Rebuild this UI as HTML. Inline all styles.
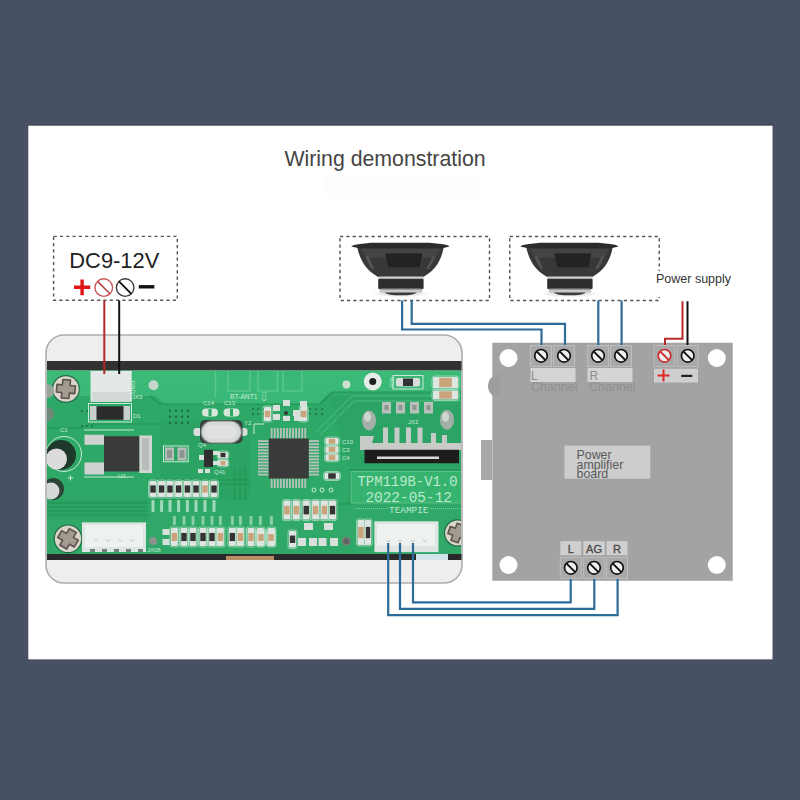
<!DOCTYPE html>
<html><head><meta charset="utf-8">
<style>
html,body{margin:0;padding:0;width:800px;height:800px;overflow:hidden;background:#485064;}
svg{display:block;}
text{font-family:"Liberation Sans",sans-serif;}
</style></head>
<body>
<svg width="800" height="800" viewBox="0 0 800 800">
<defs>
  <radialGradient id="shadow" cx="0.5" cy="0.5" r="0.5">
    <stop offset="0" stop-color="#000" stop-opacity="0.35"/>
    <stop offset="1" stop-color="#000" stop-opacity="0"/>
  </radialGradient>
  <linearGradient id="magnet" x1="0" y1="0" x2="0" y2="1">
    <stop offset="0" stop-color="#8a8a8a"/>
    <stop offset="0.5" stop-color="#dcdcdc"/>
    <stop offset="1" stop-color="#f2f2f2"/>
  </linearGradient>
  <g id="screw">
    <circle r="6.3" fill="#efefef" stroke="#111" stroke-width="1.7"/>
    <line x1="-4.4" y1="-4.4" x2="4.4" y2="4.4" stroke="#111" stroke-width="1.9"/>
  </g>
  <g id="speaker">
    <ellipse cx="49.5" cy="51" rx="30" ry="3.5" fill="url(#shadow)" opacity="0.6"/>
    <path d="M6 4.5 H92.5 C 90 18, 84 27, 74 33 Q 72.6 34.5 70 34.5 H29 Q 26.6 34.5 25 33 C 15 27, 9 18, 6 4.5 Z" fill="#383838"/>
    <path d="M10 6 H 89 C 87 10, 85 13, 83 15 H 16 C 14 13, 12 10, 10 6 Z" fill="#444"/>
    <path d="M34 10.5 H71 L68.5 24.5 H37 Z" fill="#232323"/>
    <path d="M14 14 L 20 26 L 23 26 L 17 13 Z" fill="#555"/>
    <path d="M84 14 L 78 26 L 75 26 L 82 13 Z" fill="#555"/>
    <path d="M0 3.6 Q1.5 2 9 1.2 L 20 0 H 78 L 90 1.2 Q97 2 98.3 3.6 L 91 5.4 H 8 Z" fill="#2b2b2b"/>
    <rect x="27" y="33.7" width="45.4" height="2.4" fill="#cfcfcf"/>
    <rect x="27" y="36" width="45.4" height="10.2" rx="1" fill="#2e2e2e"/>
    <rect x="28.4" y="46" width="42.6" height="4" rx="1.5" fill="#c8c8c8"/>
    <rect x="29" y="46" width="41.4" height="1.2" fill="#9a9a9a"/>
    <path d="M33 49.6 H 66 Q 62 52.5 49.5 52.5 Q 37 52.5 33 49.6 Z" fill="#3a3a3a"/>
  </g>
</defs>

<!-- white panel -->
<rect x="28.3" y="124.4" width="744.2" height="1.5" fill="#41475a"/>
<rect x="28.3" y="659.3" width="744.2" height="1.3" fill="#42485b"/>
<rect x="28.3" y="125.7" width="744.2" height="533.7" fill="#ffffff"/>

<!-- title -->
<rect x="325" y="176" width="155" height="22" fill="#fdfdfd"/>
<text x="284.4" y="166.4" font-size="21.3" fill="#444">Wiring demonstration</text>

<!-- DC box -->
<rect x="53.6" y="236.4" width="123.7" height="63.9" fill="none" stroke="#555" stroke-width="1.4" stroke-dasharray="3.2,3.1"/>
<text x="69.3" y="268.4" font-size="22.5" fill="#1e1e1e" textLength="90" lengthAdjust="spacingAndGlyphs">DC9-12V</text>
<path d="M74 287.3 H90.2 M82.1 279.4 V295.3" stroke="#e01414" stroke-width="3.4"/>
<circle cx="103.75" cy="287.6" r="8.8" fill="#fff" stroke="#c45050" stroke-width="1.4"/>
<line x1="97.6" y1="281.4" x2="109.9" y2="293.8" stroke="#b04040" stroke-width="1.5"/>
<circle cx="125.15" cy="287.6" r="8.8" fill="#fff" stroke="#3a3a3a" stroke-width="1.4"/>
<line x1="119" y1="281.4" x2="131.3" y2="293.8" stroke="#111" stroke-width="1.9"/>
<path d="M138.8 286.8 H154.4" stroke="#111" stroke-width="3.4"/>

<!-- speaker boxes -->
<rect x="340" y="236.5" width="149.5" height="64" fill="none" stroke="#555" stroke-width="1.4" stroke-dasharray="3.2,3.1"/>
<rect x="509.75" y="236.5" width="149.5" height="64" fill="none" stroke="#555" stroke-width="1.4" stroke-dasharray="3.2,3.1"/>
<use href="#speaker" transform="translate(351.2,242.8)"/>
<use href="#speaker" transform="translate(520.2,242.8)"/>

<rect x="656.5" y="271" width="80" height="26" fill="#fff"/>
<text x="656" y="282.5" font-size="12.5" fill="#333">Power supply</text>

<!-- PCB frame -->
<rect x="46" y="335" width="416" height="248" rx="18" fill="#eeeeee" stroke="#adadad" stroke-width="1.6"/>
<rect x="47" y="361" width="414.5" height="9.5" fill="#323232"/>
<rect x="47" y="370.5" width="414" height="184" fill="#2fa868"/>
<rect x="47" y="554" width="414.5" height="6" fill="#2a2a2a"/>
<rect x="226" y="556" width="48" height="4" fill="#b98d66"/>
<rect x="416" y="554" width="32" height="6" fill="#d4e2ea"/>
<clipPath id="pcbclip"><rect x="47" y="370.5" width="414" height="184"/></clipPath>
<g id="pcb" clip-path="url(#pcbclip)">
<path d="M47 371 H 461 V 392 H 330 L 318 404 H 165 L 155 396 H 47 Z" fill="#3bb977"/>
<path d="M160 420 H 250 V 500 H 147 V 478 H 160 Z" fill="#2ba363"/>
<path d="M330 395 L 461 395 V 470 H 350 Z" fill="#2da565"/>
<rect x="47" y="500" width="100" height="20" fill="#2ca464"/>
<g fill="none" stroke="#23924f" stroke-width="1.1" opacity="0.9">
<path d="M47 503 H 148"/>
<path d="M47 507 H 148"/>
<path d="M47 511 H 148"/>
<path d="M47 515 H 148"/>
<path d="M160 480 H 250"/>
<path d="M160 484 H 250"/>
<path d="M47 428 H 80 L 92 424 H 160"/>
<path d="M150 396 L 160 404 H 320 L 333 392 H 461"/>
<path d="M320 504 H 350 V 470 H 461"/>
<path d="M346 503 H 461"/>
<path d="M235 470 V 500"/><path d="M240 468 V 500"/><path d="M245 466 V 500"/>
</g>
<g fill="none" stroke="#5cc98f" stroke-width="1.6" opacity="0.9">
<path d="M215.5 371 V 398"/><path d="M228 371 V 391 H 250 V 371"/><path d="M258 371 V 391 H 277.5 V 371"/><path d="M283 371 V 391 H 302 V 371"/>
</g>
<text x="230" y="398.8" font-size="6.5" fill="#c9ead6" textLength="27.5" lengthAdjust="spacingAndGlyphs">BT-ANT1</text>
<g fill="none" stroke="#56c489" stroke-width="1" opacity="0.8">
<path d="M316 432 L 352 396 H 461"/><path d="M320 435 L 354 401 H 461"/>
</g>
<g fill="#1c6f40">
<circle cx="170" cy="410.75" r="1.2"/>
<circle cx="170" cy="416.75" r="1.2"/>
<circle cx="170" cy="422.75" r="1.2"/>
<circle cx="176" cy="410.75" r="1.2"/>
<circle cx="176" cy="416.75" r="1.2"/>
<circle cx="176" cy="422.75" r="1.2"/>
<circle cx="182" cy="410.75" r="1.2"/>
<circle cx="182" cy="416.75" r="1.2"/>
<circle cx="182" cy="422.75" r="1.2"/>
<circle cx="188" cy="410.75" r="1.2"/>
<circle cx="188" cy="416.75" r="1.2"/>
<circle cx="188" cy="422.75" r="1.2"/>
<circle cx="82" cy="411" r="1"/>
<circle cx="82" cy="426" r="1"/>
<circle cx="87" cy="411" r="1"/>
<circle cx="87" cy="426" r="1"/>
<circle cx="92" cy="411" r="1"/>
<circle cx="92" cy="426" r="1"/>
<circle cx="253" cy="409" r="1"/>
<circle cx="253" cy="414" r="1"/>
<circle cx="258" cy="409" r="1"/>
<circle cx="258" cy="414" r="1"/>
<circle cx="263" cy="409" r="1"/>
<circle cx="263" cy="414" r="1"/>
<circle cx="310" cy="409" r="1"/>
<circle cx="310" cy="414" r="1"/>
<circle cx="316" cy="409" r="1"/>
<circle cx="316" cy="414" r="1"/>
<circle cx="322" cy="409" r="1"/>
<circle cx="322" cy="414" r="1"/>
</g>
<circle cx="65.9" cy="389" r="14.0" fill="#22593c" opacity="0.8"/>
<circle cx="65.9" cy="389" r="12.8" fill="#d9d5cd"/>
<path d="M56.684000000000005 385.16 H62.06 V379.784 H69.74000000000001 V385.16 H75.116 V392.84 H69.74000000000001 V398.216 H62.06 V392.84 H56.684000000000005 Z" fill="#a39b91" stroke="#5c534a" stroke-width="1.6" stroke-linejoin="round" transform="rotate(5 65.9 389)"/>
<circle cx="68" cy="538.8" r="14.399999999999999" fill="#22593c" opacity="0.8"/>
<circle cx="68" cy="538.8" r="13.2" fill="#d9d5cd"/>
<path d="M58.496 534.8399999999999 H64.04 V529.2959999999999 H71.96 V534.8399999999999 H77.504 V542.76 H71.96 V548.304 H64.04 V542.76 H58.496 Z" fill="#a39b91" stroke="#5c534a" stroke-width="1.6" stroke-linejoin="round" transform="rotate(30 68 538.8)"/>
<circle cx="457.6" cy="533" r="13.7" fill="#22593c" opacity="0.8"/>
<circle cx="457.6" cy="533" r="12.5" fill="#d9d5cd"/>
<path d="M448.6 529.25 H453.85 V524.0 H461.35 V529.25 H466.6 V536.75 H461.35 V542.0 H453.85 V536.75 H448.6 Z" fill="#a39b91" stroke="#5c534a" stroke-width="1.6" stroke-linejoin="round" transform="rotate(20 457.6 533)"/>
<circle cx="47" cy="391" r="7" fill="#98a59d"/>
<circle cx="47" cy="414" r="7" fill="#71877a"/>
<path d="M68 478 h5 M70.5 475.5 v5" stroke="#c9ead6" stroke-width="1"/>
<rect x="90.5" y="371" width="41.25" height="30.75" fill="#e3e9e6"/>
<rect x="92" y="392" width="38" height="9.5" fill="#d3d9d6"/>
<text x="132.5" y="387" font-size="6" fill="#c9ead6" transform="rotate(90 135 383)">GND</text>
<text x="132" y="399" font-size="6" fill="#c9ead6">JX3</text>
<circle cx="153.5" cy="385.25" r="5" fill="#c3d8ca"/>
<rect x="88.5" y="403.5" width="43" height="18.5" fill="none" stroke="#c9ead6" stroke-width="1"/>
<rect x="90.00" y="406.00" width="8.00" height="14.00" fill="#c9cfcc"/>
<rect x="122.00" y="406.00" width="8.00" height="14.00" fill="#c9cfcc"/>
<rect x="96.5" y="406.25" width="27" height="13.5" fill="#2c2c2c"/>
<text x="133" y="418" font-size="6" fill="#c9ead6">D1</text>
<path d="M84 430 H 134 M 84 477 H 134" fill="none" stroke="#c9ead6" stroke-width="1"/>
<rect x="84.50" y="434.75" width="19.50" height="10.00" fill="#cfd3d0"/>
<rect x="84.50" y="462.50" width="19.50" height="12.00" fill="#cfd3d0"/>
<rect x="139.25" y="435.50" width="12.75" height="37.50" fill="#d3d7d4"/>
<rect x="142" y="438" width="7" height="32" fill="#b8bdb9"/>
<rect x="104" y="436.25" width="35.25" height="35.25" fill="#3a3a3a"/>
<text x="118" y="478" font-size="6" fill="#c9ead6">U2</text>
<circle cx="64" cy="454" r="17.5" fill="none" stroke="#c9ead6" stroke-width="1"/>
<circle cx="61" cy="455" r="15" fill="#1f3a2a"/>
<circle cx="56.5" cy="459" r="10.5" fill="#dcdcdc"/>
<circle cx="53" cy="489" r="11" fill="#2a4436"/>
<circle cx="51" cy="491" r="8.5" fill="#d4d8d6"/>
<text x="60" y="432" font-size="6" fill="#c9ead6">C1</text>
<rect x="193.5" y="428" width="54" height="8" rx="3" fill="#d9dcd9"/>
<rect x="200" y="420" width="42.5" height="23.5" rx="5" fill="#33413a"/>
<rect x="201" y="421" width="40.5" height="22" rx="11" fill="#d6d9d6" stroke="#7d807d" stroke-width="1.2"/>
<rect x="205" y="425" width="32" height="14" rx="7" fill="#dfe2df"/>
<text x="244" y="425" font-size="6" fill="#c9ead6">Y2</text>
<rect x="202" y="408.5" width="16" height="8" rx="4" fill="#d5e6db"/>
<rect x="208.5" y="409" width="3" height="7" fill="#2fa868"/>
<rect x="223.5" y="408.5" width="16" height="8" rx="4" fill="#d5e6db"/>
<rect x="230.0" y="409" width="3" height="7" fill="#2fa868"/>
<text x="203" y="405" font-size="6" fill="#c9ead6">C14</text>
<text x="224" y="405" font-size="6" fill="#c9ead6">C13</text>
<rect x="163.5" y="446" width="24.75" height="15.75" fill="none" stroke="#c9ead6" stroke-width="1"/>
<rect x="165.00" y="447.50" width="9.00" height="13.00" fill="#b6beba"/>
<rect x="177.50" y="447.50" width="9.00" height="13.00" fill="#b6beba"/>
<rect x="167" y="450" width="5" height="8" fill="#8c958f"/><rect x="179.5" y="450" width="5" height="8" fill="#8c958f"/>
<rect x="199.00" y="455.00" width="6.00" height="5.00" fill="#d9dfdb"/>
<rect x="204" y="449.75" width="9" height="17.25" fill="#2e2e2e"/>
<rect x="213.00" y="451.00" width="6.00" height="4.00" fill="#d9dfdb"/>
<rect x="213.00" y="461.00" width="6.00" height="4.00" fill="#d9dfdb"/>
<rect x="217.00" y="451.00" width="12.00" height="8.00" rx="3" fill="none" stroke="#c9ead6" stroke-width="0.8" opacity="0.8"/>
<rect x="218.00" y="452.00" width="10.00" height="6.00" rx="1.5" fill="#dfe5e1"/>
<rect x="220.50" y="452.80" width="5.00" height="4.40" fill="#333"/>
<rect x="217.00" y="459.00" width="12.00" height="8.00" rx="3" fill="none" stroke="#c9ead6" stroke-width="0.8" opacity="0.8"/>
<rect x="218.00" y="460.00" width="10.00" height="6.00" rx="1.5" fill="#dfe5e1"/>
<rect x="220.50" y="460.80" width="5.00" height="4.40" fill="#c9a37a"/>
<text x="198" y="447" font-size="6" fill="#c9ead6">Q4</text>
<text x="214" y="474" font-size="6" fill="#c9ead6">Q41</text>
<rect x="198.00" y="469.00" width="5.00" height="4.00" fill="#d9dfdb"/>
<rect x="205.00" y="469.00" width="5.00" height="4.00" fill="#d9dfdb"/>
<g fill="#b9c1bd">
<rect x="270.80" y="428" width="1.8" height="10.5"/>
<rect x="270.80" y="478.5" width="1.8" height="9.5"/>
<rect x="258" y="440.20" width="10.8" height="1.8"/>
<rect x="308.7" y="440.20" width="10.3" height="1.8"/>
<rect x="273.85" y="428" width="1.8" height="10.5"/>
<rect x="273.85" y="478.5" width="1.8" height="9.5"/>
<rect x="258" y="443.25" width="10.8" height="1.8"/>
<rect x="308.7" y="443.25" width="10.3" height="1.8"/>
<rect x="276.90" y="428" width="1.8" height="10.5"/>
<rect x="276.90" y="478.5" width="1.8" height="9.5"/>
<rect x="258" y="446.30" width="10.8" height="1.8"/>
<rect x="308.7" y="446.30" width="10.3" height="1.8"/>
<rect x="279.95" y="428" width="1.8" height="10.5"/>
<rect x="279.95" y="478.5" width="1.8" height="9.5"/>
<rect x="258" y="449.35" width="10.8" height="1.8"/>
<rect x="308.7" y="449.35" width="10.3" height="1.8"/>
<rect x="283.00" y="428" width="1.8" height="10.5"/>
<rect x="283.00" y="478.5" width="1.8" height="9.5"/>
<rect x="258" y="452.40" width="10.8" height="1.8"/>
<rect x="308.7" y="452.40" width="10.3" height="1.8"/>
<rect x="286.05" y="428" width="1.8" height="10.5"/>
<rect x="286.05" y="478.5" width="1.8" height="9.5"/>
<rect x="258" y="455.45" width="10.8" height="1.8"/>
<rect x="308.7" y="455.45" width="10.3" height="1.8"/>
<rect x="289.10" y="428" width="1.8" height="10.5"/>
<rect x="289.10" y="478.5" width="1.8" height="9.5"/>
<rect x="258" y="458.50" width="10.8" height="1.8"/>
<rect x="308.7" y="458.50" width="10.3" height="1.8"/>
<rect x="292.15" y="428" width="1.8" height="10.5"/>
<rect x="292.15" y="478.5" width="1.8" height="9.5"/>
<rect x="258" y="461.55" width="10.8" height="1.8"/>
<rect x="308.7" y="461.55" width="10.3" height="1.8"/>
<rect x="295.20" y="428" width="1.8" height="10.5"/>
<rect x="295.20" y="478.5" width="1.8" height="9.5"/>
<rect x="258" y="464.60" width="10.8" height="1.8"/>
<rect x="308.7" y="464.60" width="10.3" height="1.8"/>
<rect x="298.25" y="428" width="1.8" height="10.5"/>
<rect x="298.25" y="478.5" width="1.8" height="9.5"/>
<rect x="258" y="467.65" width="10.8" height="1.8"/>
<rect x="308.7" y="467.65" width="10.3" height="1.8"/>
<rect x="301.30" y="428" width="1.8" height="10.5"/>
<rect x="301.30" y="478.5" width="1.8" height="9.5"/>
<rect x="258" y="470.70" width="10.8" height="1.8"/>
<rect x="308.7" y="470.70" width="10.3" height="1.8"/>
<rect x="304.35" y="428" width="1.8" height="10.5"/>
<rect x="304.35" y="478.5" width="1.8" height="9.5"/>
<rect x="258" y="473.75" width="10.8" height="1.8"/>
<rect x="308.7" y="473.75" width="10.3" height="1.8"/>
</g>
<rect x="268.75" y="438.5" width="40" height="40" fill="#3a3a3a"/>
<path d="M254 434 V 424 H 264" fill="none" stroke="#c9ead6" stroke-width="1"/>
<rect x="263.00" y="406.00" width="9.00" height="16.00" rx="2" fill="none" stroke="#c9ead6" stroke-width="0.8" opacity="0.8"/>
<rect x="264.00" y="407.00" width="7.00" height="14.00" rx="1.2" fill="#dfe5e1"/>
<rect x="264.80" y="410.85" width="5.40" height="6.30" fill="#c9a37a"/>
<rect x="273.00" y="405.00" width="7.00" height="6.00" fill="#d9dfdb"/>
<rect x="273.00" y="414.00" width="7.00" height="6.00" fill="#d9dfdb"/>
<rect x="283.00" y="400.00" width="7.00" height="6.00" fill="#d9dfdb"/>
<circle cx="286" cy="413" r="2" fill="#333"/>
<rect x="283.00" y="416.00" width="7.00" height="5.00" fill="#d9dfdb"/>
<rect x="293.00" y="410.00" width="7.00" height="6.00" fill="#d9dfdb"/>
<rect x="300.00" y="401.00" width="7.00" height="6.00" fill="#d9dfdb"/>
<rect x="294.00" y="416.00" width="7.00" height="5.00" fill="#d9dfdb"/>
<rect x="299.25" y="406.00" width="9.00" height="16.00" rx="2" fill="none" stroke="#c9ead6" stroke-width="0.8" opacity="0.8"/>
<rect x="300.25" y="407.00" width="7.00" height="14.00" rx="1.2" fill="#dfe5e1"/>
<rect x="301.05" y="410.85" width="5.40" height="6.30" fill="#c9a37a"/>
<text x="262" y="397" font-size="5.5" fill="#c9ead6" transform="rotate(-90 266 397)">C11</text>
<rect x="324.50" y="437.00" width="15.00" height="8.50" rx="3" fill="none" stroke="#c9ead6" stroke-width="0.8" opacity="0.8"/>
<rect x="325.50" y="438.00" width="13.00" height="6.50" rx="1.5" fill="#dfe5e1"/>
<rect x="328.75" y="438.80" width="6.50" height="4.90" fill="#c9a37a"/>
<rect x="324.50" y="445.15" width="15.00" height="8.50" rx="3" fill="none" stroke="#c9ead6" stroke-width="0.8" opacity="0.8"/>
<rect x="325.50" y="446.15" width="13.00" height="6.50" rx="1.5" fill="#dfe5e1"/>
<rect x="328.75" y="446.95" width="6.50" height="4.90" fill="#c9a37a"/>
<rect x="324.50" y="453.25" width="15.00" height="8.50" rx="3" fill="none" stroke="#c9ead6" stroke-width="0.8" opacity="0.8"/>
<rect x="325.50" y="454.25" width="13.00" height="6.50" rx="1.5" fill="#dfe5e1"/>
<rect x="328.75" y="455.05" width="6.50" height="4.90" fill="#c9a37a"/>
<text x="342" y="444" font-size="6" fill="#c9ead6">C10</text>
<text x="342" y="452" font-size="6" fill="#c9ead6">C3</text>
<text x="342" y="460" font-size="6" fill="#c9ead6">C4</text>
<rect x="323.50" y="471.50" width="17.00" height="9.00" rx="3" fill="none" stroke="#c9ead6" stroke-width="0.8" opacity="0.8"/>
<rect x="324.50" y="472.50" width="15.00" height="7.00" rx="1.5" fill="#dfe5e1"/>
<rect x="328.25" y="473.30" width="7.50" height="5.40" fill="#333"/>
<circle cx="346.4" cy="384.4" r="4" fill="#cddfd3"/>
<circle cx="372.75" cy="381.5" r="9" fill="#e4ece7"/>
<circle cx="372.75" cy="381.5" r="3.5" fill="#1e1e1e"/>
<rect x="393" y="375.5" width="30" height="13.5" fill="none" stroke="#c9ead6" stroke-width="1"/>
<rect x="396" y="378" width="24" height="8.5" rx="2" fill="#d7dcd9"/>
<rect x="403" y="378.5" width="10" height="7.5" fill="#333"/>
<rect x="432.00" y="376.00" width="27.00" height="13.00" rx="3" fill="none" stroke="#c9ead6" stroke-width="0.8" opacity="0.8"/>
<rect x="433.00" y="377.00" width="25.00" height="11.00" rx="1.5" fill="#dfe5e1"/>
<rect x="439.25" y="377.80" width="12.50" height="9.40" fill="#c9a37a"/>
<rect x="432.00" y="389.50" width="27.00" height="11.00" rx="3" fill="none" stroke="#c9ead6" stroke-width="0.8" opacity="0.8"/>
<rect x="433.00" y="390.50" width="25.00" height="9.00" rx="1.5" fill="#dfe5e1"/>
<rect x="439.25" y="391.30" width="12.50" height="7.40" fill="#c9a37a"/>
<text x="385" y="392" font-size="5.5" fill="#c9ead6" transform="rotate(-90 387 385)">R36</text>
<rect x="382.00" y="402.00" width="9.00" height="11.50" fill="#b9c0bc"/>
<rect x="384.5" y="405" width="4" height="5" fill="#8d9691"/>
<rect x="396.00" y="402.00" width="9.00" height="11.50" fill="#b9c0bc"/>
<rect x="398.5" y="405" width="4" height="5" fill="#8d9691"/>
<rect x="410.00" y="402.00" width="9.00" height="11.50" fill="#b9c0bc"/>
<rect x="412.5" y="405" width="4" height="5" fill="#8d9691"/>
<rect x="424.00" y="402.00" width="9.00" height="11.50" fill="#b9c0bc"/>
<rect x="426.5" y="405" width="4" height="5" fill="#8d9691"/>
<ellipse cx="369" cy="420.5" rx="7" ry="10" fill="#a5afa9"/>
<ellipse cx="367.5" cy="417" rx="3.5" ry="5" fill="#cfd6d2"/>
<ellipse cx="447" cy="419.75" rx="7" ry="10" fill="#a5afa9"/>
<ellipse cx="445.5" cy="417" rx="3.5" ry="5" fill="#cfd6d2"/>
<text x="408" y="424" font-size="6" fill="#c9ead6">JX2</text>
<g fill="#c7cbc8">
<rect x="383" y="427.5" width="5" height="16"/>
<rect x="394.5" y="427.5" width="5" height="16"/>
<rect x="406" y="427.5" width="5" height="16"/>
<rect x="417.5" y="427.5" width="5" height="16"/>
<rect x="431" y="433" width="5" height="10"/><rect x="442" y="435" width="5" height="8"/>
<path d="M360 436 L 374 436 L 372 443 H 360 Z"/>
</g>
<rect x="360" y="443" width="101" height="7" fill="#c9ccc6"/>
<rect x="364.5" y="449.75" width="94.5" height="13.5" fill="#1d1d1d"/>
<rect x="377" y="456.5" width="62" height="2.5" fill="#d9d9d9"/>
<rect x="351" y="471.5" width="111" height="31.5" fill="#36b46f" stroke="#5cc48a" stroke-width="1"/>
<path d="M355 508.5 H 389 M 429 508.5 H 461" fill="none" stroke="#7fd3a3" stroke-width="1" stroke-dasharray="1,1"/>
<text x="357.5" y="485.9" style="font-family:'Liberation Mono',monospace" font-size="13.9" fill="#c9efd7" opacity="0.9" textLength="100" lengthAdjust="spacingAndGlyphs">TPM119B-V1.0</text>
<text x="365.4" y="502.4" style="font-family:'Liberation Mono',monospace" font-size="14" fill="#c9efd7" opacity="0.9" textLength="86.6" lengthAdjust="spacingAndGlyphs">2022-05-12</text>
<text x="389" y="512.8" style="font-family:'Liberation Mono',monospace" font-size="9" fill="#bfe8cf" textLength="39.4" lengthAdjust="spacingAndGlyphs">TEAMPIE</text>
<rect x="148.50" y="480.00" width="9.00" height="18.00" rx="2" fill="none" stroke="#c9ead6" stroke-width="0.8" opacity="0.8"/>
<rect x="149.50" y="481.00" width="7.00" height="16.00" rx="1.2" fill="#dfe5e1"/>
<rect x="150.30" y="485.40" width="5.40" height="7.20" fill="#333"/>
<rect x="157.10" y="480.00" width="9.00" height="18.00" rx="2" fill="none" stroke="#c9ead6" stroke-width="0.8" opacity="0.8"/>
<rect x="158.10" y="481.00" width="7.00" height="16.00" rx="1.2" fill="#dfe5e1"/>
<rect x="158.90" y="485.40" width="5.40" height="7.20" fill="#333"/>
<rect x="165.50" y="480.00" width="9.00" height="18.00" rx="2" fill="none" stroke="#c9ead6" stroke-width="0.8" opacity="0.8"/>
<rect x="166.50" y="481.00" width="7.00" height="16.00" rx="1.2" fill="#dfe5e1"/>
<rect x="167.30" y="485.40" width="5.40" height="7.20" fill="#333"/>
<rect x="174.10" y="480.00" width="9.00" height="18.00" rx="2" fill="none" stroke="#c9ead6" stroke-width="0.8" opacity="0.8"/>
<rect x="175.10" y="481.00" width="7.00" height="16.00" rx="1.2" fill="#dfe5e1"/>
<rect x="175.90" y="485.40" width="5.40" height="7.20" fill="#333"/>
<rect x="182.90" y="480.00" width="9.00" height="18.00" rx="2" fill="none" stroke="#c9ead6" stroke-width="0.8" opacity="0.8"/>
<rect x="183.90" y="481.00" width="7.00" height="16.00" rx="1.2" fill="#dfe5e1"/>
<rect x="184.70" y="485.40" width="5.40" height="7.20" fill="#333"/>
<rect x="191.50" y="480.00" width="9.00" height="18.00" rx="2" fill="none" stroke="#c9ead6" stroke-width="0.8" opacity="0.8"/>
<rect x="192.50" y="481.00" width="7.00" height="16.00" rx="1.2" fill="#dfe5e1"/>
<rect x="193.30" y="485.40" width="5.40" height="7.20" fill="#333"/>
<rect x="200.50" y="480.00" width="9.00" height="18.00" rx="2" fill="none" stroke="#c9ead6" stroke-width="0.8" opacity="0.8"/>
<rect x="201.50" y="481.00" width="7.00" height="16.00" rx="1.2" fill="#dfe5e1"/>
<rect x="202.30" y="485.40" width="5.40" height="7.20" fill="#c9a37a"/>
<rect x="209.50" y="480.00" width="9.00" height="18.00" rx="2" fill="none" stroke="#c9ead6" stroke-width="0.8" opacity="0.8"/>
<rect x="210.50" y="481.00" width="7.00" height="16.00" rx="1.2" fill="#dfe5e1"/>
<rect x="211.30" y="485.40" width="5.40" height="7.20" fill="#333"/>
<g fill="#c9ead6" opacity="0.75">
<rect x="151.5" y="500" width="3" height="12" rx="1"/>
<rect x="160.1" y="500" width="3" height="12" rx="1"/>
<rect x="168.5" y="500" width="3" height="12" rx="1"/>
<rect x="177.1" y="500" width="3" height="12" rx="1"/>
<rect x="185.9" y="500" width="3" height="12" rx="1"/>
<rect x="194.5" y="500" width="3" height="12" rx="1"/>
<rect x="203.5" y="500" width="3" height="12" rx="1"/>
<rect x="212.5" y="500" width="3" height="12" rx="1"/>
</g>
<rect x="162.50" y="529.00" width="7.00" height="6.00" fill="#d9dfdb"/>
<rect x="162.50" y="539.00" width="7.00" height="6.00" fill="#d9dfdb"/>
<rect x="169.90" y="527.00" width="9.00" height="20.00" rx="2" fill="none" stroke="#c9ead6" stroke-width="0.8" opacity="0.8"/>
<rect x="170.90" y="528.00" width="7.00" height="18.00" rx="1.2" fill="#dfe5e1"/>
<rect x="171.70" y="532.95" width="5.40" height="8.10" fill="#c9a37a"/>
<rect x="179.50" y="527.00" width="9.00" height="20.00" rx="2" fill="none" stroke="#c9ead6" stroke-width="0.8" opacity="0.8"/>
<rect x="180.50" y="528.00" width="7.00" height="18.00" rx="1.2" fill="#dfe5e1"/>
<rect x="181.30" y="532.95" width="5.40" height="8.10" fill="#333"/>
<rect x="188.50" y="527.00" width="9.00" height="20.00" rx="2" fill="none" stroke="#c9ead6" stroke-width="0.8" opacity="0.8"/>
<rect x="189.50" y="528.00" width="7.00" height="18.00" rx="1.2" fill="#dfe5e1"/>
<rect x="190.30" y="532.95" width="5.40" height="8.10" fill="#333"/>
<rect x="198.50" y="527.00" width="9.00" height="20.00" rx="2" fill="none" stroke="#c9ead6" stroke-width="0.8" opacity="0.8"/>
<rect x="199.50" y="528.00" width="7.00" height="18.00" rx="1.2" fill="#dfe5e1"/>
<rect x="200.30" y="532.95" width="5.40" height="8.10" fill="#333"/>
<rect x="207.50" y="527.00" width="9.00" height="20.00" rx="2" fill="none" stroke="#c9ead6" stroke-width="0.8" opacity="0.8"/>
<rect x="208.50" y="528.00" width="7.00" height="18.00" rx="1.2" fill="#dfe5e1"/>
<rect x="209.30" y="532.95" width="5.40" height="8.10" fill="#333"/>
<rect x="215.90" y="527.00" width="9.00" height="20.00" rx="2" fill="none" stroke="#c9ead6" stroke-width="0.8" opacity="0.8"/>
<rect x="216.90" y="528.00" width="7.00" height="18.00" rx="1.2" fill="#dfe5e1"/>
<rect x="217.70" y="532.95" width="5.40" height="8.10" fill="#c9a37a"/>
<rect x="227.90" y="527.00" width="9.00" height="20.00" rx="2" fill="none" stroke="#c9ead6" stroke-width="0.8" opacity="0.8"/>
<rect x="228.90" y="528.00" width="7.00" height="18.00" rx="1.2" fill="#dfe5e1"/>
<rect x="229.70" y="532.95" width="5.40" height="8.10" fill="#333"/>
<rect x="235.90" y="527.00" width="9.00" height="20.00" rx="2" fill="none" stroke="#c9ead6" stroke-width="0.8" opacity="0.8"/>
<rect x="236.90" y="528.00" width="7.00" height="18.00" rx="1.2" fill="#dfe5e1"/>
<rect x="237.70" y="532.95" width="5.40" height="8.10" fill="#c9a37a"/>
<rect x="246.50" y="527.00" width="9.00" height="20.00" rx="2" fill="none" stroke="#c9ead6" stroke-width="0.8" opacity="0.8"/>
<rect x="247.50" y="528.00" width="7.00" height="18.00" rx="1.2" fill="#dfe5e1"/>
<rect x="248.30" y="532.95" width="5.40" height="8.10" fill="#c9a37a"/>
<rect x="255.90" y="527.00" width="9.00" height="20.00" rx="2" fill="none" stroke="#c9ead6" stroke-width="0.8" opacity="0.8"/>
<rect x="256.90" y="528.00" width="7.00" height="18.00" rx="1.2" fill="#dfe5e1"/>
<rect x="257.70" y="532.95" width="5.40" height="8.10" fill="#c9a37a"/>
<rect x="266.90" y="527.00" width="9.00" height="20.00" rx="2" fill="none" stroke="#c9ead6" stroke-width="0.8" opacity="0.8"/>
<rect x="267.90" y="528.00" width="7.00" height="18.00" rx="1.2" fill="#dfe5e1"/>
<rect x="268.70" y="532.95" width="5.40" height="8.10" fill="#c9a37a"/>
<g fill="#c9ead6" opacity="0.6">
<rect x="172.9" y="516" width="3" height="9" rx="1"/>
<rect x="182.5" y="516" width="3" height="9" rx="1"/>
<rect x="191.5" y="516" width="3" height="9" rx="1"/>
<rect x="201.5" y="516" width="3" height="9" rx="1"/>
<rect x="210.5" y="516" width="3" height="9" rx="1"/>
<rect x="218.9" y="516" width="3" height="9" rx="1"/>
<rect x="230.9" y="516" width="3" height="9" rx="1"/>
<rect x="238.9" y="516" width="3" height="9" rx="1"/>
<rect x="249.5" y="516" width="3" height="9" rx="1"/>
<rect x="258.9" y="516" width="3" height="9" rx="1"/>
<rect x="269.9" y="516" width="3" height="9" rx="1"/>
</g>
<rect x="282.40" y="499.60" width="9.00" height="21.00" rx="2" fill="none" stroke="#c9ead6" stroke-width="0.8" opacity="0.8"/>
<rect x="283.40" y="500.60" width="7.00" height="19.00" rx="1.2" fill="#dfe5e1"/>
<rect x="284.20" y="505.83" width="5.40" height="8.55" fill="#c9a37a"/>
<rect x="291.75" y="499.60" width="9.00" height="21.00" rx="2" fill="none" stroke="#c9ead6" stroke-width="0.8" opacity="0.8"/>
<rect x="292.75" y="500.60" width="7.00" height="19.00" rx="1.2" fill="#dfe5e1"/>
<rect x="293.55" y="505.83" width="5.40" height="8.55" fill="#c9a37a"/>
<rect x="301.75" y="499.60" width="9.00" height="21.00" rx="2" fill="none" stroke="#c9ead6" stroke-width="0.8" opacity="0.8"/>
<rect x="302.75" y="500.60" width="7.00" height="19.00" rx="1.2" fill="#dfe5e1"/>
<rect x="303.55" y="505.83" width="5.40" height="8.55" fill="#333"/>
<rect x="311.10" y="499.60" width="9.00" height="21.00" rx="2" fill="none" stroke="#c9ead6" stroke-width="0.8" opacity="0.8"/>
<rect x="312.10" y="500.60" width="7.00" height="19.00" rx="1.2" fill="#dfe5e1"/>
<rect x="312.90" y="505.83" width="5.40" height="8.55" fill="#c9a37a"/>
<rect x="319.90" y="499.60" width="9.00" height="21.00" rx="2" fill="none" stroke="#c9ead6" stroke-width="0.8" opacity="0.8"/>
<rect x="320.90" y="500.60" width="7.00" height="19.00" rx="1.2" fill="#dfe5e1"/>
<rect x="321.70" y="505.83" width="5.40" height="8.55" fill="#c9a37a"/>
<rect x="328.00" y="499.60" width="9.00" height="21.00" rx="2" fill="none" stroke="#c9ead6" stroke-width="0.8" opacity="0.8"/>
<rect x="329.00" y="500.60" width="7.00" height="19.00" rx="1.2" fill="#dfe5e1"/>
<rect x="329.80" y="505.83" width="5.40" height="8.55" fill="#333"/>
<g fill="none" stroke="#c9ead6" stroke-width="1">
<circle cx="314" cy="490" r="2"/>
<circle cx="322" cy="490" r="2"/>
<circle cx="331" cy="490" r="2"/>
</g>
<rect x="304.00" y="523.00" width="9.00" height="7.00" fill="#d9dfdb"/>
<rect x="324.00" y="523.00" width="9.00" height="7.00" fill="#d9dfdb"/>
<rect x="288.00" y="530.00" width="9.00" height="18.50" rx="2" fill="none" stroke="#c9ead6" stroke-width="0.8" opacity="0.8"/>
<rect x="289.00" y="531.00" width="7.00" height="16.50" rx="1.2" fill="#dfe5e1"/>
<rect x="289.80" y="535.54" width="5.40" height="7.42" fill="#333"/>
<rect x="298.00" y="538.00" width="8.00" height="8.00" fill="#d9dfdb"/>
<rect x="309.00" y="538.00" width="8.00" height="8.00" fill="#d9dfdb"/>
<rect x="318.50" y="538.00" width="8.00" height="8.00" fill="#d9dfdb"/>
<rect x="330.00" y="538.00" width="8.00" height="8.00" fill="#d9dfdb"/>
<rect x="256.50" y="529.00" width="9.00" height="17.00" rx="2" fill="none" stroke="#c9ead6" stroke-width="0.8" opacity="0.8"/>
<rect x="257.50" y="530.00" width="7.00" height="15.00" rx="1.2" fill="#dfe5e1"/>
<rect x="258.30" y="534.12" width="5.40" height="6.75" fill="#c9a37a"/>
<rect x="266.50" y="529.00" width="9.00" height="17.00" rx="2" fill="none" stroke="#c9ead6" stroke-width="0.8" opacity="0.8"/>
<rect x="267.50" y="530.00" width="7.00" height="15.00" rx="1.2" fill="#dfe5e1"/>
<rect x="268.30" y="534.12" width="5.40" height="6.75" fill="#c9a37a"/>
<circle cx="346.25" cy="541.25" r="4.5" fill="#77807b"/>
<circle cx="346.25" cy="541.25" r="3" fill="#5d6662"/>
<rect x="356.50" y="519.00" width="9.00" height="27.00" rx="2" fill="none" stroke="#c9ead6" stroke-width="0.8" opacity="0.8"/>
<rect x="357.50" y="520.00" width="7.00" height="25.00" rx="1.2" fill="#dfe5e1"/>
<rect x="358.30" y="526.88" width="5.40" height="11.25" fill="#c9a37a"/>
<rect x="364.00" y="519.00" width="8.00" height="27.00" rx="2" fill="none" stroke="#c9ead6" stroke-width="0.8" opacity="0.8"/>
<rect x="365.00" y="520.00" width="6.00" height="25.00" rx="1.2" fill="#dfe5e1"/>
<rect x="365.80" y="526.88" width="4.40" height="11.25" fill="#333"/>
<rect x="82" y="522.4" width="64" height="29.6" fill="#dfe5e2"/>
<rect x="85" y="525" width="58" height="22" fill="#edf1ef"/>
<path d="M94 539.5 L 96 541.5 L 98 539.5" fill="none" stroke="#bfc6c2" stroke-width="1"/>
<path d="M106 539.5 L 108 541.5 L 110 539.5" fill="none" stroke="#bfc6c2" stroke-width="1"/>
<path d="M118.5 539.5 L 120.5 541.5 L 122.5 539.5" fill="none" stroke="#bfc6c2" stroke-width="1"/>
<path d="M130.5 539.5 L 132.5 541.5 L 134.5 539.5" fill="none" stroke="#bfc6c2" stroke-width="1"/>
<rect x="90" y="549" width="5" height="3" fill="#3f5a4b" opacity="0.7"/>
<rect x="102" y="549" width="5" height="3" fill="#3f5a4b" opacity="0.7"/>
<rect x="114" y="549" width="5" height="3" fill="#3f5a4b" opacity="0.7"/>
<rect x="126" y="549" width="5" height="3" fill="#3f5a4b" opacity="0.7"/>
<rect x="138" y="549" width="5" height="3" fill="#3f5a4b" opacity="0.7"/>
<circle cx="153" cy="541" r="4" fill="#8a928d"/>
<text x="147" y="552" font-size="6" fill="#c9ead6">JX08</text>
<rect x="374.4" y="521.3" width="64.1" height="30.8" fill="#dfe5e2"/>
<rect x="377" y="524" width="58" height="22" fill="#edf1ef"/>
<path d="M386.2 540 L 388.2 542 L 390.2 540" fill="none" stroke="#bfc6c2" stroke-width="1"/>
<path d="M398 540 L 400 542 L 402 540" fill="none" stroke="#bfc6c2" stroke-width="1"/>
<path d="M411 540 L 413 542 L 415 540" fill="none" stroke="#bfc6c2" stroke-width="1"/>
<path d="M423 540 L 425 542 L 427 540" fill="none" stroke="#bfc6c2" stroke-width="1"/>
</g>

<!-- amp board -->
<rect x="492.3" y="342.75" width="240.4" height="238" fill="#a3a3a3"/>
<path d="M500 374 A12 12 0 0 0 500 398 Z" fill="#9e9e9e"/>
<rect x="481" y="440" width="11" height="40" fill="#a8a8a8"/>
<circle cx="508.5" cy="358" r="9" fill="#fff"/>
<circle cx="716.8" cy="358" r="9" fill="#fff"/>
<circle cx="508.5" cy="565" r="9" fill="#fff"/>
<circle cx="716.8" cy="565" r="9" fill="#fff"/>

<!-- wires (speakers) -->
<g fill="none" stroke="#2d6b98" stroke-width="2.2">
  <path d="M402.1 300.5 V329.5 H541.5 V347"/>
  <path d="M411.7 300.5 V323.9 H565 V347"/>
  <path d="M598.3 300.5 V347"/>
  <path d="M621.6 300.5 V347"/>
  <path d="M413 543 V602.4 H570.7 V578"/>
  <path d="M400 543 V608.8 H594.3 V578"/>
  <path d="M388.2 543 V615.1 H617.6 V578"/>
</g>
<path d="M682.5 301.25 V338.75 H665 V347" fill="none" stroke="#b82a2a" stroke-width="2"/>
<path d="M687.5 301.25 V347" fill="none" stroke="#111" stroke-width="2"/>
<path d="M104.3 300.5 V374" fill="none" stroke="#b02828" stroke-width="2"/>
<path d="M119.2 300.5 V374" fill="none" stroke="#111" stroke-width="2"/>

<!-- top terminals -->
<g fill="#a9a9a9" stroke="#bdbdbd" stroke-width="1">
  <rect x="530.5" y="345.5" width="21" height="21"/>
  <rect x="553.5" y="345.5" width="21" height="21"/>
  <rect x="587.5" y="345.5" width="21" height="21"/>
  <rect x="610.5" y="345.5" width="21" height="21"/>
  <rect x="654" y="345.5" width="21" height="21"/>
  <rect x="677.25" y="345.5" width="21" height="21"/>
</g>
<use href="#screw" transform="translate(541,355.8)"/>
<use href="#screw" transform="translate(564,355.8)"/>
<use href="#screw" transform="translate(598,355.8)"/>
<use href="#screw" transform="translate(621,355.8)"/>
<g transform="translate(664.5,355.8)">
  <circle r="6.3" fill="#efefef" stroke="#cc2a2a" stroke-width="1.7"/>
  <line x1="-4.4" y1="-4.4" x2="4.4" y2="4.4" stroke="#cc2a2a" stroke-width="1.9"/>
</g>
<use href="#screw" transform="translate(687.7,355.8)"/>

<!-- labels under top terminals -->
<rect x="530.5" y="368" width="45" height="14" fill="#d4d4d4"/>
<rect x="587.5" y="368" width="45" height="14" fill="#d4d4d4"/>
<text x="531" y="380" font-size="12" fill="#8d8d8d">L</text>
<text x="589.5" y="380" font-size="12" fill="#8d8d8d">R</text>
<text x="531" y="391" font-size="12.5" fill="#909090">Channel</text>
<text x="589" y="391" font-size="12.5" fill="#909090">Channel</text>
<rect x="654" y="368.75" width="44" height="13.75" fill="#cfcfcf"/>
<path d="M657.5 375.6 H669.5 M663.5 369.6 V381.6" stroke="#e02a2a" stroke-width="2"/>
<path d="M681.25 375.9 H692.25" stroke="#222" stroke-width="2.2"/>

<!-- center label -->
<rect x="564.4" y="445.6" width="85.9" height="33.1" fill="#cdcdcd"/>
<text x="576.5" y="459.4" font-size="12.4" fill="#5a5a5a">Power</text>
<text x="576.5" y="468.9" font-size="12.4" fill="#5a5a5a">amplifier</text>
<text x="576.5" y="478.3" font-size="12.4" fill="#5a5a5a">board</text>

<!-- bottom terminals -->
<g fill="#cfcfcf">
  <rect x="560.3" y="541.2" width="21" height="14"/>
  <rect x="583.3" y="541.2" width="21.5" height="14"/>
  <rect x="606.5" y="541.2" width="21" height="14"/>
</g>
<g font-size="11" fill="#4a4a4a" stroke="#4a4a4a" stroke-width="0.35" text-anchor="middle">
  <text x="570.8" y="553">L</text>
  <text x="594" y="553">AG</text>
  <text x="617" y="553">R</text>
</g>
<g fill="#a9a9a9" stroke="#bdbdbd" stroke-width="1">
  <rect x="560.3" y="557.3" width="21" height="21"/>
  <rect x="583.3" y="557.3" width="21.5" height="21"/>
  <rect x="606.5" y="557.3" width="21" height="21"/>
</g>
<use href="#screw" transform="translate(570.8,567.8)"/>
<use href="#screw" transform="translate(594,567.8)"/>
<use href="#screw" transform="translate(617,567.8)"/>

</svg>
</body></html>
